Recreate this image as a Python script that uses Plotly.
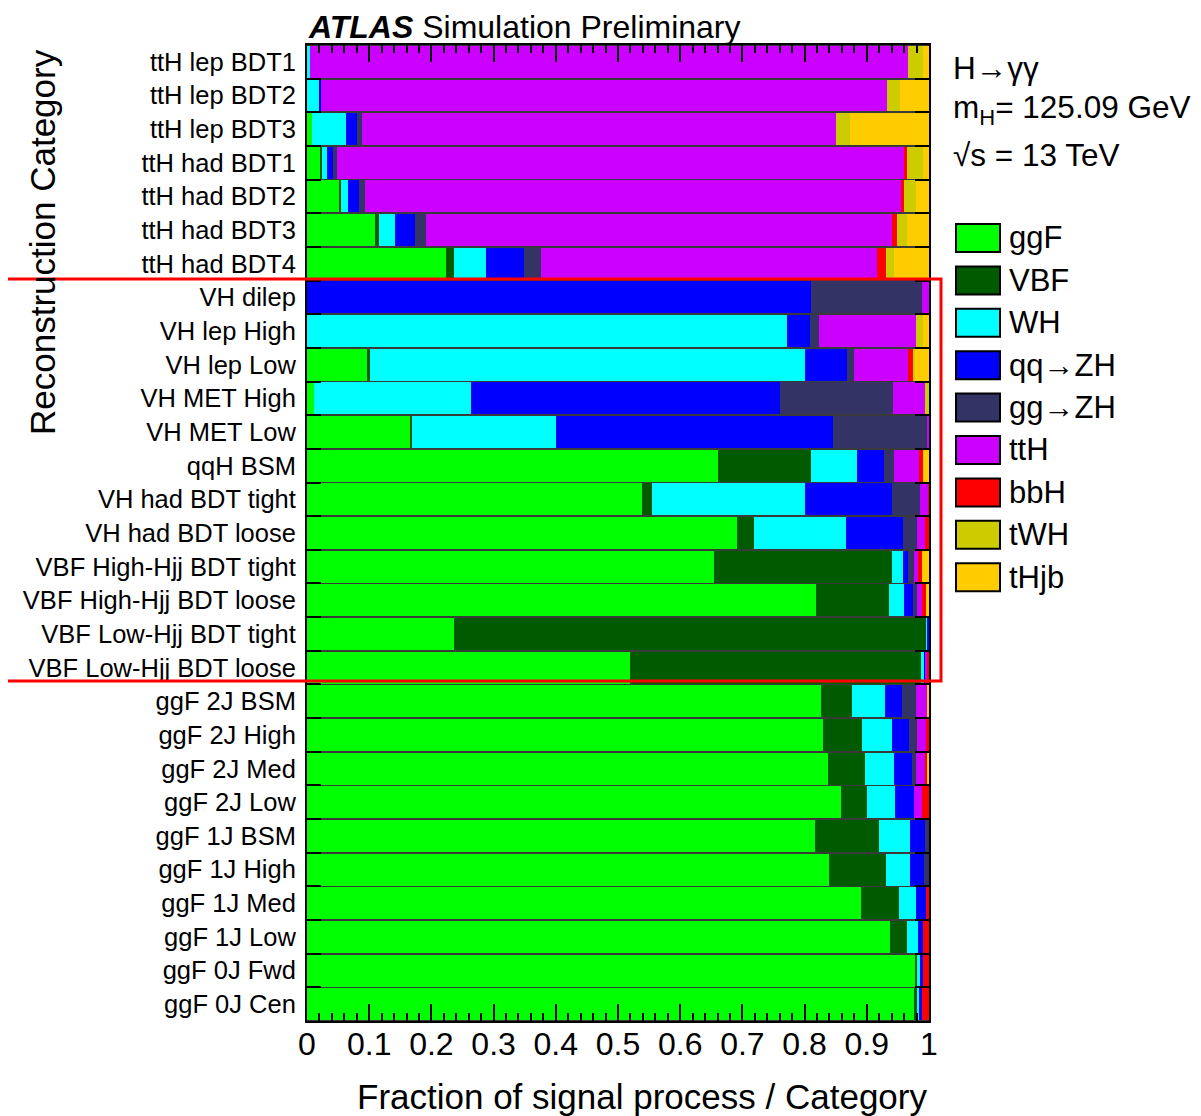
import plotly.graph_objects as go

categories = [
    "ttH lep BDT1", "ttH lep BDT2", "ttH lep BDT3",
    "ttH had BDT1", "ttH had BDT2", "ttH had BDT3", "ttH had BDT4",
    "VH dilep", "VH lep High", "VH lep Low", "VH MET High", "VH MET Low",
    "qqH BSM", "VH had BDT tight", "VH had BDT loose",
    "VBF High-Hjj BDT tight", "VBF High-Hjj BDT loose",
    "VBF Low-Hjj BDT tight", "VBF Low-Hjj BDT loose",
    "ggF 2J BSM", "ggF 2J High", "ggF 2J Med", "ggF 2J Low",
    "ggF 1J BSM", "ggF 1J High", "ggF 1J Med", "ggF 1J Low",
    "ggF 0J Fwd", "ggF 0J Cen",
]

ggF  = [0, 0, 0.008, 0.022, 0.052, 0.109, 0.223, 0, 0, 0.096, 0.012, 0.165, 0.661, 0.538, 0.692,
        0.654, 0.818, 0.236, 0.520, 0.827, 0.830, 0.837, 0.858, 0.816, 0.839, 0.891, 0.937, 0.977, 0.976]
VBF  = [0, 0, 0, 0.002, 0.002, 0.006, 0.014, 0, 0, 0.005, 0, 0.004, 0.149, 0.017, 0.026,
        0.286, 0.117, 0.760, 0.467, 0.050, 0.062, 0.060, 0.043, 0.104, 0.092, 0.060, 0.028, 0.004, 0.005]
WH   = [0.005, 0.019, 0.054, 0.0085, 0.012, 0.026, 0.051, 0, 0.772, 0.700, 0.252, 0.232, 0.075, 0.246, 0.148,
        0.018, 0.024, 0.001, 0.005, 0.052, 0.048, 0.047, 0.045, 0.049, 0.039, 0.028, 0.017, 0.005, 0.004]
qqZH = [0, 0.004, 0.019, 0.010, 0.017, 0.032, 0.061, 0.811, 0.037, 0.067, 0.497, 0.445, 0.043, 0.139, 0.092,
        0.009, 0.016, 0.003, 0.003, 0.028, 0.028, 0.028, 0.030, 0.024, 0.022, 0.016, 0.009, 0.004, 0.003]
ggZH = [0, 0, 0.007, 0.0065, 0.011, 0.018, 0.028, 0.178, 0.014, 0.011, 0.181, 0.151, 0.015, 0.046, 0.022,
        0.009, 0.006, 0, 0, 0.022, 0.013, 0.007, 0, 0.007, 0.008, 0, 0, 0, 0]
ttH  = [0.962, 0.910, 0.762, 0.912, 0.861, 0.750, 0.540, 0.011, 0.156, 0.088, 0.052, 0.003, 0.041, 0.013, 0.014,
        0.007, 0.007, 0, 0.002, 0.018, 0.014, 0.014, 0.012, 0, 0, 0, 0, 0, 0]
bbH  = [0, 0, 0, 0.003, 0.004, 0.008, 0.014, 0, 0, 0.008, 0, 0, 0.007, 0.001, 0.006,
        0.005, 0.007, 0, 0.003, 0, 0.005, 0.004, 0.012, 0, 0, 0.005, 0.009, 0.010, 0.012]
tWH  = [0.023, 0.021, 0.023, 0.026, 0.020, 0.016, 0.012, 0, 0.012, 0.002, 0.006, 0, 0.001, 0, 0,
        0, 0, 0, 0, 0, 0, 0, 0, 0, 0, 0, 0, 0, 0]
tHjb = [0.010, 0.046, 0.127, 0.010, 0.021, 0.035, 0.057, 0, 0.009, 0.023, 0, 0, 0.008, 0, 0,
        0.012, 0.005, 0, 0, 0.003, 0, 0.003, 0, 0, 0, 0, 0, 0, 0]

process_names = ["ggF", "VBF", "WH", "qq→ZH", "gg→ZH", "ttH", "bbH", "tWH", "tHjb"]
process_values = [ggF, VBF, WH, qqZH, ggZH, ttH, bbH, tWH, tHjb]
process_colors = ["#00ff00", "#005a00", "#00ffff", "#0000ff", "#333366",
                  "#cc00ff", "#ff0000", "#cccc00", "#ffcc00"]

x_tickvals = [0, 0.1, 0.2, 0.3, 0.4, 0.5, 0.6, 0.7, 0.8, 0.9, 1.0]
x_ticktext = ["0", "0.1", "0.2", "0.3", "0.4", "0.5", "0.6", "0.7", "0.8", "0.9", "1"]

FONT = "Liberation Sans, Arial, Helvetica, sans-serif"

fig = go.Figure()
for name, vals, col in zip(process_names, process_values, process_colors):
    fig.add_trace(go.Bar(
        y=categories, x=vals, name=name, orientation="h",
        marker=dict(color=col, line=dict(width=0)),
        showlegend=False,
    ))

# page body has an 8px margin; figure placed at (8, 8)
OFF = 8
W, H = 1201 - OFF, 1116 - OFF
L, R, T, B = 307 - OFF, W - (929 - OFF), 45 - OFF, H - (1021 - OFF)
PW, PH = W - L - R, H - T - B

def px_x(p):
    return (p - OFF - L) / PW

def px_y(p):
    return (H - B - (p - OFF)) / PH

fig.update_layout(
    width=W, height=H,
    margin=dict(l=L, r=R, t=T, b=B),
    barmode="stack", bargap=0.05,
    paper_bgcolor="white", plot_bgcolor="#3a3a3a",
    font=dict(family=FONT, color="black"),
)

fig.update_xaxes(
    range=[0, 1], tickvals=x_tickvals, ticktext=x_ticktext,
    tickfont=dict(size=32), ticks="inside", ticklen=17, tickwidth=2, tickcolor="black",
    minor=dict(dtick=0.02, ticks="inside", ticklen=8, tickwidth=2, tickcolor="black", showgrid=False),
    showline=True, linewidth=2, linecolor="black", mirror="ticks",
    showgrid=False, zeroline=False, ticklabelstandoff=-6,
)
fig.update_yaxes(
    type="category", categoryorder="array", categoryarray=categories,
    autorange="reversed",
    tickfont=dict(size=25.5), ticks="inside", tickson="boundaries", ticklen=14, tickwidth=2,
    tickcolor="black",
    showline=True, linewidth=2, linecolor="black", mirror="ticks",
    showgrid=False, zeroline=False, ticklabelstandoff=4,
)

annotations = [
    dict(text="<b><i>ATLAS</i></b> Simulation Preliminary", x=px_x(306), y=px_y(27),
         xanchor="left", yanchor="middle", font=dict(size=32)),
    dict(text="Fraction of signal process / Category", x=px_x(929), y=px_y(1096),
         xanchor="right", yanchor="middle", font=dict(size=35)),
    dict(text="Reconstruction Category", x=px_x(42), y=px_y(242), textangle=-90,
         xanchor="center", yanchor="middle", font=dict(size=35)),
    dict(text="H→γγ", x=px_x(951), y=px_y(68), xanchor="left", yanchor="middle", font=dict(size=31.5)),
    dict(text="m<sub>H</sub>= 125.09 GeV", x=px_x(951), y=px_y(110), xanchor="left", yanchor="middle", font=dict(size=31.5)),
    dict(text="√s = 13 TeV", x=px_x(951), y=px_y(155), xanchor="left", yanchor="middle", font=dict(size=31.5)),
]
shapes = []
for i, (name, col) in enumerate(zip(process_names, process_colors)):
    yc = 238 + 42.4 * i
    shapes.append(dict(type="rect", xref="paper", yref="paper",
                       x0=px_x(956), x1=px_x(1000), y0=px_y(yc + 14), y1=px_y(yc - 14),
                       fillcolor=col, line=dict(color="black", width=2)))
    annotations.append(dict(text=name, x=px_x(1007), y=px_y(yc), xanchor="left", yanchor="middle",
                            font=dict(size=31)))

# red highlight box
shapes.append(dict(type="rect", xref="paper", yref="paper",
                   x0=px_x(4), x1=px_x(941), y0=px_y(681), y1=px_y(279),
                   fillcolor="rgba(0,0,0,0)", line=dict(color="#ff0000", width=3)))

for a in annotations:
    a.update(xref="paper", yref="paper", showarrow=False)

fig.update_layout(annotations=annotations, shapes=shapes)
fig.write_html("out.html")
